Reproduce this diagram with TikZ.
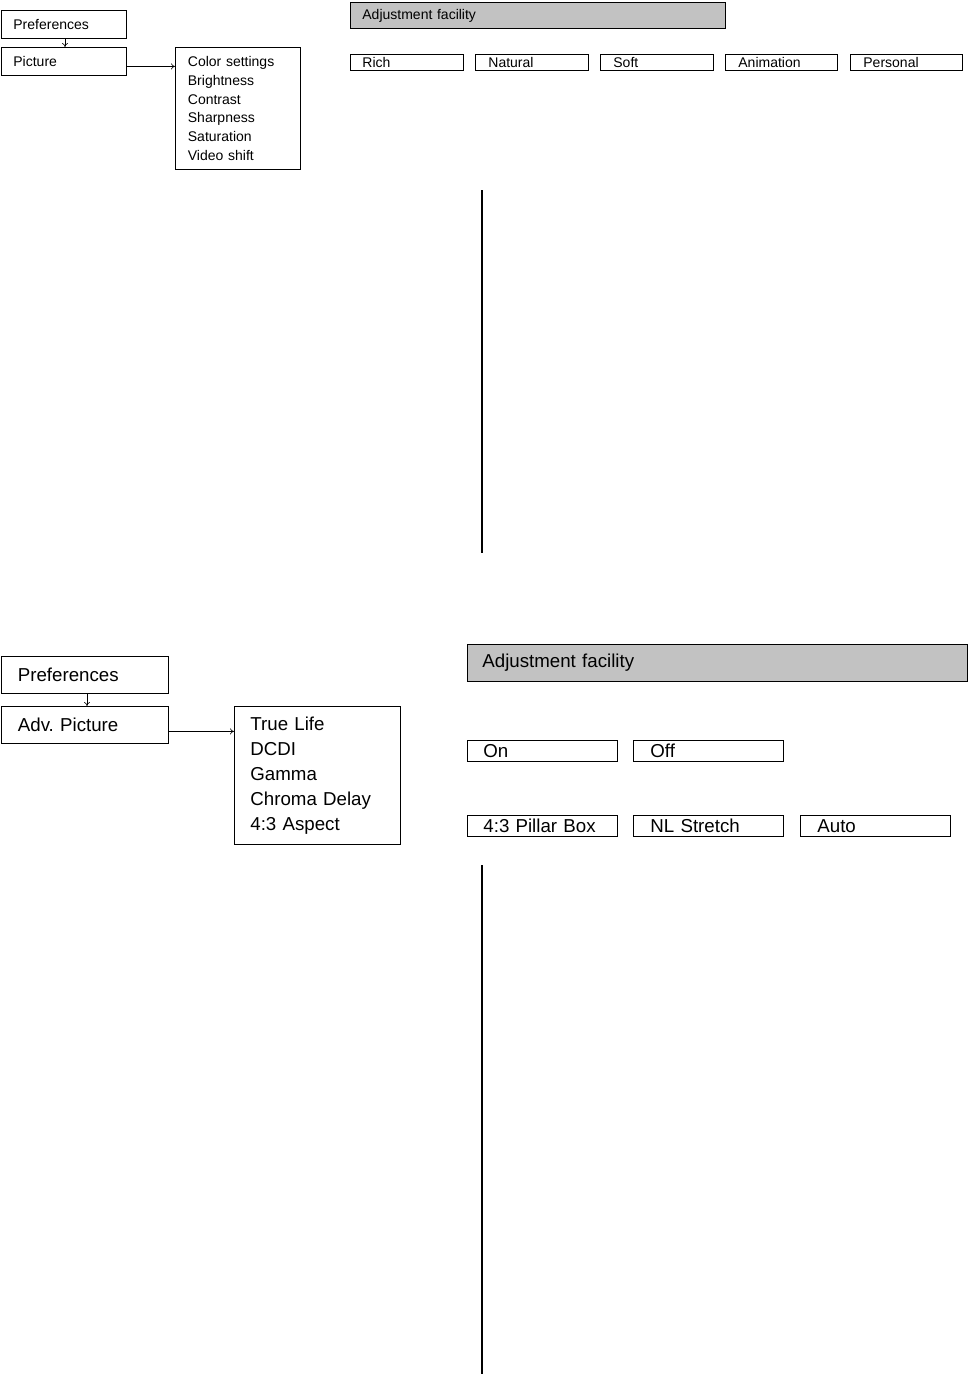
\documentclass[tikz,border=0pt]{standalone}
\usepackage{fontspec}
\setmainfont{Liberation Sans}
\usetikzlibrary{arrows.meta}
\definecolor{hdgray}{RGB}{194,194,194}
\frenchspacing
\begin{document}
\begin{tikzpicture}[x=1pt,y=-1pt,
  bx/.style n args={3}{draw, line width=0.8pt, rectangle, anchor=north west,
     inner ysep=0pt, inner xsep=#3, minimum width=#1, minimum height=#2,
     text width={#1-2*#3}, align=left},
  smallf/.style={font=\fontsize{14}{18.8}\selectfont},
  bigf/.style={font=\fontsize{18.7}{25.1}\selectfont},
  hdr/.style={fill=hdgray},
  arr/.style={line width=0.6pt, -{To[length=4pt,width=6pt]}},
  vline/.style={line width=2pt}
]
\useasboundingbox (0,0) rectangle (968,1374);

% ---------- top section ----------
\node[bx={125}{28}{12.5}, smallf] (pref1) at (0.5,10) {Preferences};
\node[bx={125}{28}{12.5}, smallf] (pic1) at (0.5,47) {Picture};
\node[bx={125}{122}{12.5}, smallf] (list1) at (175,47) {Color settings\\Brightness\\Contrast\\Sharpness\\Saturation\\Video shift};
\draw[arr] (pref1.south -| 65,0) -- (pic1.north -| 65,0);
\draw[arr] ([yshift=-5pt]pic1.east) -- ([yshift=-5pt]pic1.east -| list1.west);

\node[bx={375}{26}{12}, smallf, hdr] (adj1) at (350,2) {Adjustment facility};
\node[bx={113}{16}{12}, smallf] (rich) at (350,54) {Rich};
\node[bx={113}{16}{13}, smallf] (natural) at (475,54) {Natural};
\node[bx={113}{16}{13}, smallf] (soft) at (600,54) {Soft};
\node[bx={112}{16}{13}, smallf] (anim) at (725,54) {Animation};
\node[bx={112}{16}{13}, smallf] (pers) at (850,54) {Personal};

\coordinate (v1a) at (482,190);
\coordinate (v1b) at (482,553);
\draw[vline] (v1a) -- (v1b);

% ---------- bottom section ----------
\node[bx={167}{37}{17}, bigf] (pref2) at (0.5,656) {Preferences};
\node[bx={167}{37}{17}, bigf] (pic2) at (0.5,706) {Adv. Picture};
\node[bx={166}{138}{16}, bigf] (list2) at (234,706) {True Life\\DCDI\\Gamma\\Chroma Delay\\4:3 Aspect};
\draw[arr] (pref2.south -| 87,0) -- (pic2.north -| 87,0);
\draw[arr] ([yshift=-6.5pt]pic2.east) -- ([yshift=-6.5pt]pic2.east -| list2.west);

\node[bx={500}{37}{15}, bigf, hdr] (adj2) at (467,644) {Adjustment facility};
\node[bx={150}{21}{16}, bigf] (on) at (467,740) {On};
\node[bx={150}{21}{17}, bigf] (off) at (633,740) {Off};
\node[bx={150}{21}{16}, bigf] (pillar) at (467,815) {4:3 Pillar Box};
\node[bx={150}{21}{17}, bigf] (nl) at (633,815) {NL Stretch};
\node[bx={150}{21}{17}, bigf] (auto) at (800,815) {Auto};

\coordinate (v2a) at (482,865);
\coordinate (v2b) at (482,1374);
\draw[vline] (v2a) -- (v2b);
\end{tikzpicture}
\end{document}
